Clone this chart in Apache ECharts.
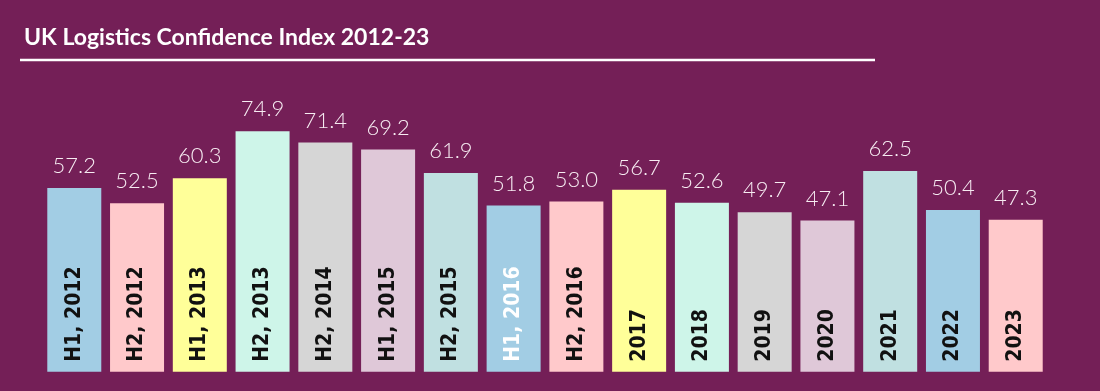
<!DOCTYPE html>
<html>
<head>
<meta charset="utf-8">
<script src="https://cdn.jsdelivr.net/npm/echarts@6/dist/echarts.min.js"></script>
<style>
html,body{margin:0;padding:0;background:#741f57;}
#chart{width:1100px;height:391px;}
</style>
</head>
<body>
<div id="chart"></div>
<script>
const titleText = 'UK Logistics Confidence Index 2012-23';
const categories = ['H1, 2012','H2, 2012','H1, 2013','H2, 2013','H2, 2014','H1, 2015','H2, 2015','H1, 2016','H2, 2016','2017','2018','2019','2020','2021','2022','2023'];
const values = [57.2, 52.5, 60.3, 74.9, 71.4, 69.2, 61.9, 51.8, 53.0, 56.7, 52.6, 49.7, 47.1, 62.5, 50.4, 47.3];
const palette = ['#a2cde4','#ffc9cb','#ffff99','#cef5e9','#d6d6d6','#dfc8d8','#c0e0e1'];
const whiteLabelCats = ['H1, 2016'];

const chart = echarts.init(document.getElementById('chart'));
chart.setOption({
  backgroundColor: '#741f57',
  animation: false,
  title: {
    text: titleText,
    left: 19, top: 21,
    textStyle: {color: '#ffffff', fontFamily: 'Lato', fontWeight: 'bold', fontSize: 23}
  },
  graphic: [{
    type: 'line',
    shape: {x1: 20, y1: 60, x2: 875, y2: 60},
    style: {stroke: '#ffffff', lineWidth: 2.5}
  }],
  grid: {left: 42.9, right: 52.9, top: 50.7, bottom: 19.3},
  xAxis: {
    type: 'category', data: categories,
    axisLine: {show: false}, axisTick: {show: false}, axisLabel: {show: false}
  },
  yAxis: {
    type: 'value', min: 0, max: 100,
    show: false, splitLine: {show: false}
  },
  series: [{
    type: 'bar',
    barWidth: 54,
    data: values.map((v, i) => ({
      value: v,
      itemStyle: {color: palette[i % palette.length]}
    })),
    label: {
      show: true, position: 'top', distance: 11,
      color: '#f7ecf2', fontFamily: 'Lato', fontWeight: 300, fontSize: 22,
      formatter: p => p.value.toFixed(1)
    }
  }, {
    type: 'bar',
    barWidth: 54,
    barGap: '-100%',
    silent: true,
    itemStyle: {color: 'transparent'},
    data: values.map((v, i) => ({
      value: v,
      label: {color: whiteLabelCats.includes(categories[i]) ? '#ffffff' : '#111111'}
    })),
    label: {
      show: true, position: 'insideBottom', rotate: 90, distance: 10,
      align: 'left', verticalAlign: 'middle',
      fontFamily: '"DejaVu Sans Condensed", "DejaVu Sans"', fontWeight: 'bold', fontSize: 21,
      formatter: p => categories[p.dataIndex]
    }
  }]
});
</script>
</body>
</html>
